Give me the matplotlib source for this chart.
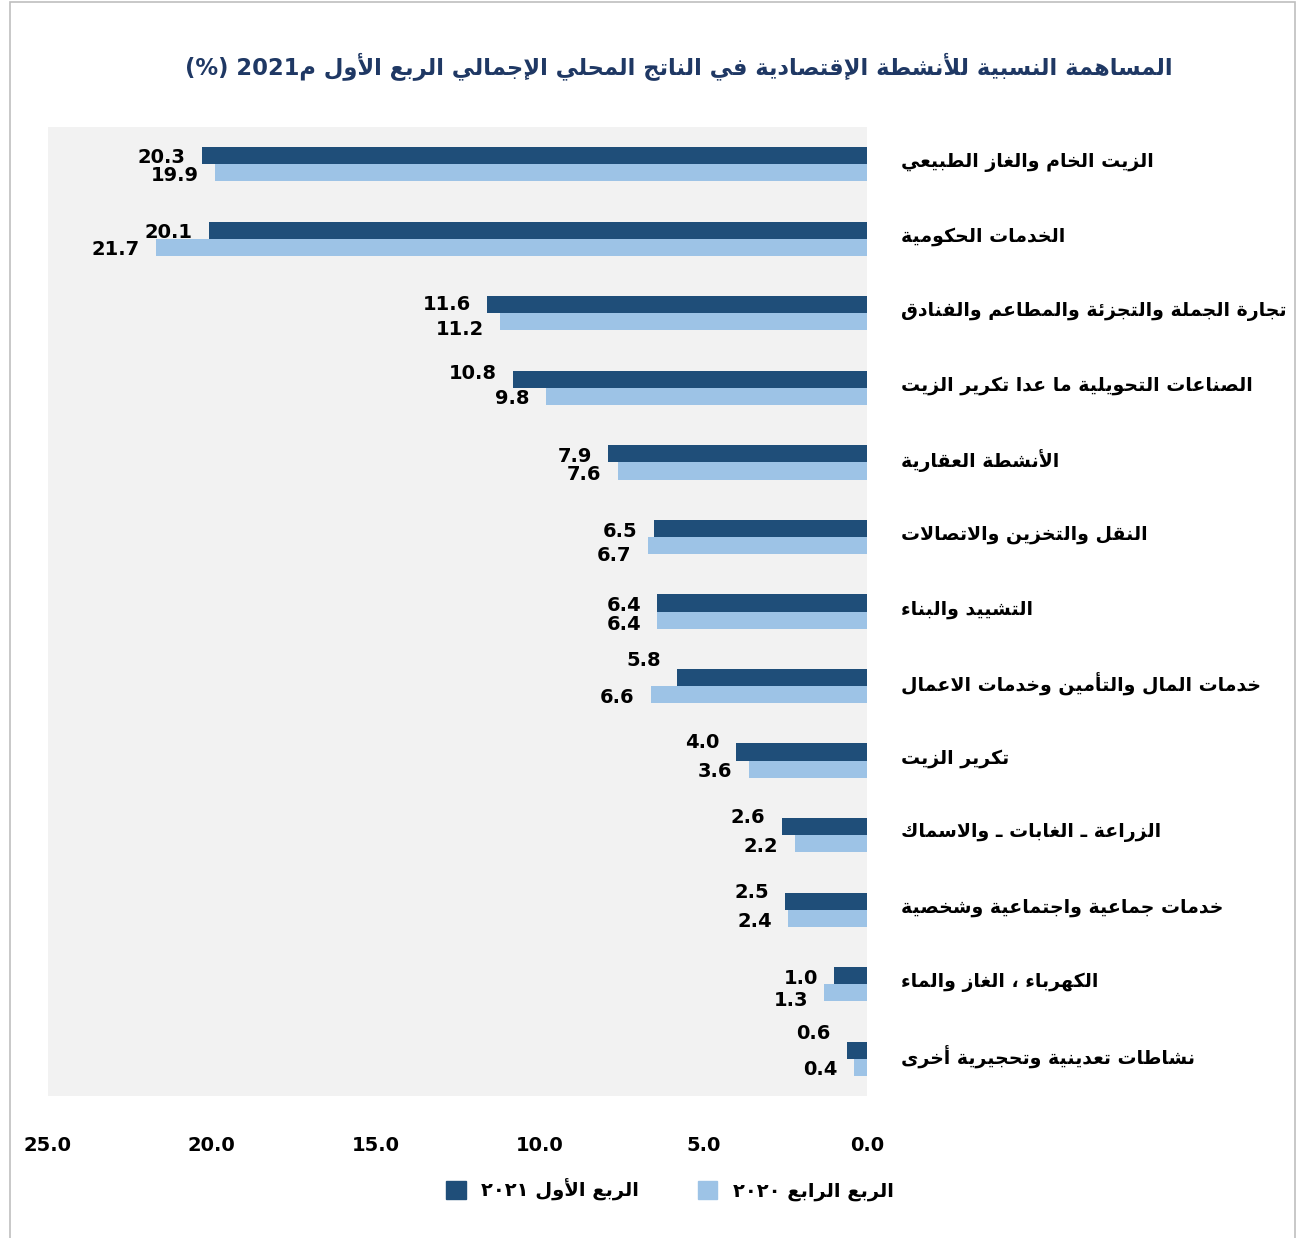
import re
import matplotlib
matplotlib.use('Agg')
import matplotlib.pyplot as plt
from matplotlib.patches import Rectangle, Patch

# ---- data ----
categories = [
    'الزيت الخام والغاز الطبيعي',
    'الخدمات الحكومية',
    'تجارة الجملة والتجزئة والمطاعم والفنادق',
    'الصناعات التحويلية ما عدا تكرير الزيت',
    'الأنشطة العقارية',
    'النقل والتخزين والاتصالات',
    'التشييد والبناء',
    'خدمات المال والتأمين وخدمات الاعمال',
    'تكرير الزيت',
    'الزراعة ـ الغابات ـ والاسماك',
    'خدمات جماعية واجتماعية وشخصية',
    'الكهرباء ، الغاز والماء',
    'نشاطات تعدينية وتحجيرية أخرى',
]
q1_2021 = [20.3, 20.1, 11.6, 10.8, 7.9, 6.5, 6.4, 5.8, 4.0, 2.6, 2.5, 1.0, 0.6]
q4_2020 = [19.9, 21.7, 11.2, 9.8, 7.6, 6.7, 6.4, 6.6, 3.6, 2.2, 2.4, 1.3, 0.4]
series_names = ['الربع الأول ٢٠٢١', 'الربع الرابع ٢٠٢٠']
title = 'المساهمة النسبية للأنشطة الإقتصادية في الناتج المحلي الإجمالي الربع الأول م2021 (%)'
x_ticks = [25, 20, 15, 10, 5, 0]

# label nudges in pixels (down = positive), as placed by hand in the original
dark_nudge = [0, 0, -3, -8, 0, 1, 0, -19, -12, -11, -11, 1, -19]
light_nudge = [0, 0, 5, 0, 1, 8, 2, 1, 0, 1, 1, 5, 0]

# ---- minimal arabic shaping (matplotlib has no shaping / bidi) ----
_letters = ('\u0621\u0622\u0623\u0624\u0625\u0626\u0627\u0628\u0629\u062a\u062b\u062c\u062d'
            '\u062e\u062f\u0630\u0631\u0632\u0633\u0634\u0635\u0636\u0637\u0638\u0639\u063a'
            '\u0641\u0642\u0643\u0644\u0645\u0646\u0647\u0648\u0649\u064a')
_nforms = [1, 2, 2, 2, 2, 4, 2, 4, 2, 4, 4, 4, 4, 4, 2, 2, 2, 2, 4, 4, 4, 4, 4, 4, 4, 4,
           4, 4, 4, 4, 4, 4, 4, 2, 2, 4]
FORMS = {}
_cp = 0xFE80
for ch, n in zip(_letters, _nforms):
    FORMS[ch] = [chr(_cp + k) for k in range(n)]
    _cp += n
LAMALEF = {'\u0622': ('\ufef5', '\ufef6'), '\u0623': ('\ufef7', '\ufef8'),
           '\u0625': ('\ufef9', '\ufefa'), '\u0627': ('\ufefb', '\ufefc')}


def shape(text):
    toks = []
    i = 0
    while i < len(text):
        c = text[i]
        if c == '\u0644' and i + 1 < len(text) and text[i + 1] in LAMALEF:
            toks.append(list(LAMALEF[text[i + 1]]))
            i += 2
            continue
        if c == '\u0640':
            toks.append(['\u0640'] * 4)
        elif c in FORMS:
            toks.append(FORMS[c])
        else:
            toks.append(c)
        i += 1

    def fwd(t):  # joins to the following letter
        return isinstance(t, list) and len(t) == 4

    def back(t):  # joins to the preceding letter
        return isinstance(t, list) and len(t) >= 2

    out = []
    for k, t in enumerate(toks):
        if not isinstance(t, list):
            out.append(t)
            continue
        p = k > 0 and fwd(toks[k - 1]) and back(t)
        n = k + 1 < len(toks) and fwd(t) and back(toks[k + 1])
        if p and n:
            out.append(t[3])
        elif p:
            out.append(t[1])
        elif n:
            out.append(t[2])
        else:
            out.append(t[0])
    return ''.join(out)


def ar(text):
    r = shape(text)[::-1]
    r = re.sub(r'[0-9\u0660-\u0669A-Za-z.]+', lambda m: m.group(0)[::-1], r)
    return r.translate(str.maketrans('()', ')('))


# ---- plot ----
dark = '#1F4E79'
light = '#9DC3E6'
plt.rcParams['font.family'] = ['DejaVu Sans']

fig = plt.figure(figsize=(12.96, 12.38), dpi=100)
fig.patches.append(Rectangle((10 / 1296, -0.01), 1285 / 1296, 1.0 - 2 / 1238 + 0.01,
                             transform=fig.transFigure, fill=False,
                             edgecolor='#BFBFBF', linewidth=1.2))

ax = fig.add_axes([48 / 1296, 1 - 1096 / 1238, 819 / 1296, 969 / 1238])
ax.set_facecolor('#F2F2F2')

pos = list(range(len(categories)))
h = 0.23
px = 13 / 969  # data units per pixel on the y axis
ax.barh([p - h / 2 for p in pos], q1_2021, height=h, color=dark)
ax.barh([p + h / 2 for p in pos], q4_2020, height=h, color=light)

for p, a, b in zip(pos, q1_2021, q4_2020):
    ax.text(a + 0.5, p - h / 2 + 0.03 + dark_nudge[p] * px, f'{a:.1f}',
            ha='right', va='center', fontsize=14, fontweight='bold')
    ax.text(b + 0.5, p + h / 2 + 0.03 + light_nudge[p] * px, f'{b:.1f}',
            ha='right', va='center', fontsize=14, fontweight='bold')
    ax.text(-1.04, p - 0.03, ar(categories[p]), ha='left', va='center',
            fontsize=13.6, fontweight='bold')

ax.set_xlim(25, 0)
ax.set_ylim(len(categories) - 0.5, -0.5)
ax.set_xticks(x_ticks)
ax.set_xticklabels([f'{v:.1f}' for v in x_ticks], fontsize=14, fontweight='bold')
ax.tick_params(axis='x', length=0, pad=29)
ax.set_yticks([])
for s in ax.spines.values():
    s.set_visible(False)

fig.text(679 / 1296, 1 - 66 / 1238, ar(title), ha='center', va='center',
         fontsize=16.3, fontweight='bold', color='#1F3864')

handles = [Patch(color=dark), Patch(color=light)]
fig.legend(handles, [ar(n) for n in series_names], loc='center',
           bbox_to_anchor=(670 / 1296, 1 - 1190 / 1238), ncol=2, frameon=False,
           prop={'size': 14, 'weight': 'bold'}, columnspacing=3.0,
           handlelength=1.0, handleheight=1.0)

fig.savefig('out.png', dpi=100)
